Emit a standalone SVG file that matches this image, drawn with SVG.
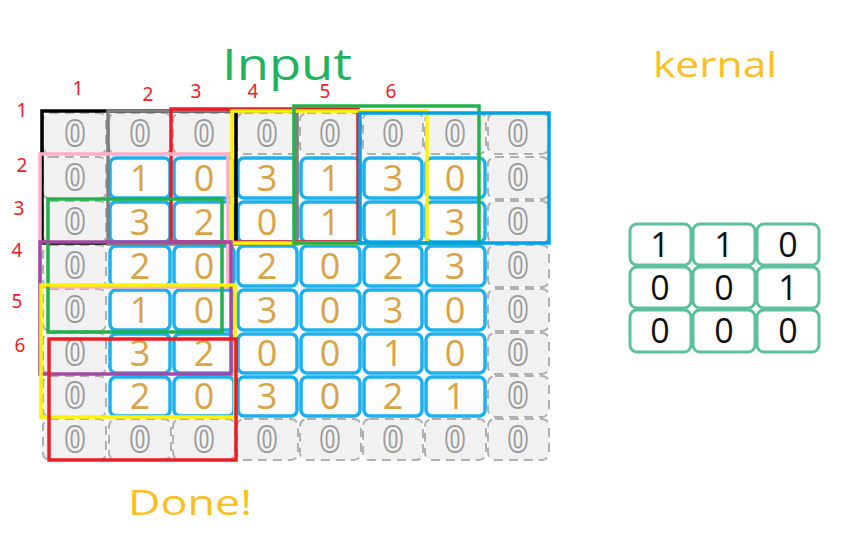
<svg xmlns="http://www.w3.org/2000/svg" width="850" height="550" viewBox="0 0 850 550">
<style>
.zc{fill:#f1f1f1;stroke:#b0b0b0;stroke-width:2;stroke-dasharray:9 6}
.zt{font-family:"Open Sans","DejaVu Sans",sans-serif;font-size:35px;font-weight:bold;fill:#f4f4f4;stroke:#9c9c9c;stroke-width:1.8;text-anchor:middle}
.ic{fill:#fdfdfd;stroke:#1cb0ee;stroke-width:3.5}
.it{font-family:"Open Sans","DejaVu Sans",sans-serif;font-size:36px;fill:#d9a346;text-anchor:middle}
.kc{fill:#ffffff;stroke:#5cbf9f;stroke-width:3}
.kt{font-family:"Open Sans","DejaVu Sans",sans-serif;font-size:34px;fill:#111;text-anchor:middle}
.lb{font-family:"Noto Sans","Liberation Sans",sans-serif;font-size:19px;fill:#ee1c25;text-anchor:middle}
.bx{fill:none;stroke-width:3.5}
.title{font-family:"Open Sans","Liberation Sans",sans-serif;font-weight:500;text-anchor:start}
</style>

<text class="title" x="222" y="80" font-size="43" fill="#22b25e" textLength="130" lengthAdjust="spacingAndGlyphs">Input</text>
<text class="title" x="653" y="77" font-size="34" fill="#fbbf22" textLength="124" lengthAdjust="spacingAndGlyphs">kernal</text>
<text class="title" x="128" y="515" font-size="34" fill="#fbbf22" textLength="124" lengthAdjust="spacingAndGlyphs">Done!</text>

<g id="input-grid">
<g id="row1">
<rect class="zc" x="43" y="113" width="63" height="41" rx="7"/><text class="zt" x="75" y="146">0</text>
<rect class="zc" x="109" y="113" width="62" height="41" rx="7"/><text class="zt" x="140" y="146">0</text>
<rect class="zc" x="173" y="113" width="62" height="41" rx="7"/><text class="zt" x="204" y="146">0</text>
<rect class="zc" x="237" y="113" width="61" height="41" rx="7"/><text class="zt" x="267" y="146">0</text>
<rect class="zc" x="300" y="113" width="61" height="41" rx="7"/><text class="zt" x="330" y="146">0</text>
<rect class="zc" x="363" y="113" width="60" height="41" rx="7"/><text class="zt" x="393" y="146">0</text>
<rect class="zc" x="425" y="113" width="61" height="41" rx="7"/><text class="zt" x="455" y="146">0</text>
<rect class="zc" x="488" y="113" width="61" height="41" rx="7"/><text class="zt" x="518" y="146">0</text>
</g>
<g id="row8">
<rect class="zc" x="43" y="419" width="63" height="41" rx="7"/><text class="zt" x="75" y="452">0</text>
<rect class="zc" x="109" y="419" width="62" height="41" rx="7"/><text class="zt" x="140" y="452">0</text>
<rect class="zc" x="173" y="419" width="62" height="41" rx="7"/><text class="zt" x="204" y="452">0</text>
<rect class="zc" x="237" y="419" width="61" height="41" rx="7"/><text class="zt" x="267" y="452">0</text>
<rect class="zc" x="300" y="419" width="61" height="41" rx="7"/><text class="zt" x="330" y="452">0</text>
<rect class="zc" x="363" y="419" width="60" height="41" rx="7"/><text class="zt" x="393" y="452">0</text>
<rect class="zc" x="425" y="419" width="61" height="41" rx="7"/><text class="zt" x="455" y="452">0</text>
<rect class="zc" x="488" y="419" width="61" height="41" rx="7"/><text class="zt" x="518" y="452">0</text>
</g>
<g id="sides">
<rect class="zc" x="43" y="157" width="63" height="42" rx="7"/><text class="zt" x="75" y="190">0</text>
<rect class="zc" x="43" y="201" width="63" height="42" rx="7"/><text class="zt" x="75" y="234">0</text>
<rect class="zc" x="43" y="245" width="63" height="42" rx="7"/><text class="zt" x="75" y="278">0</text>
<rect class="zc" x="43" y="289" width="63" height="42" rx="7"/><text class="zt" x="75" y="322">0</text>
<rect class="zc" x="43" y="333" width="63" height="41" rx="7"/><text class="zt" x="75" y="365">0</text>
<rect class="zc" x="43" y="376" width="63" height="41" rx="7"/><text class="zt" x="75" y="408">0</text>
<rect class="zc" x="488" y="157" width="61" height="42" rx="7"/><text class="zt" x="518" y="190">0</text>
<rect class="zc" x="488" y="201" width="61" height="42" rx="7"/><text class="zt" x="518" y="234">0</text>
<rect class="zc" x="488" y="245" width="61" height="42" rx="7"/><text class="zt" x="518" y="278">0</text>
<rect class="zc" x="488" y="289" width="61" height="42" rx="7"/><text class="zt" x="518" y="322">0</text>
<rect class="zc" x="488" y="333" width="61" height="41" rx="7"/><text class="zt" x="518" y="365">0</text>
<rect class="zc" x="488" y="376" width="61" height="41" rx="7"/><text class="zt" x="518" y="408">0</text>
</g>
<g id="inner">
<rect class="ic" x="110" y="158" width="60" height="40" rx="6"/><text class="it" x="140" y="191">1</text>
<rect class="ic" x="174" y="158" width="60" height="40" rx="6"/><text class="it" x="204" y="191">0</text>
<rect class="ic" x="238" y="158" width="59" height="40" rx="6"/><text class="it" x="267" y="191">3</text>
<rect class="ic" x="301" y="158" width="59" height="40" rx="6"/><text class="it" x="330" y="191">1</text>
<rect class="ic" x="364" y="158" width="58" height="40" rx="6"/><text class="it" x="393" y="191">3</text>
<rect class="ic" x="426" y="158" width="59" height="40" rx="6"/><text class="it" x="455" y="191">0</text>

<rect class="ic" x="110" y="202" width="60" height="40" rx="6"/><text class="it" x="140" y="235">3</text>
<rect class="ic" x="174" y="202" width="60" height="40" rx="6"/><text class="it" x="204" y="235">2</text>
<rect class="ic" x="238" y="202" width="59" height="40" rx="6"/><text class="it" x="267" y="235">0</text>
<rect class="ic" x="301" y="202" width="59" height="40" rx="6"/><text class="it" x="330" y="235">1</text>
<rect class="ic" x="364" y="202" width="58" height="40" rx="6"/><text class="it" x="393" y="235">1</text>
<rect class="ic" x="426" y="202" width="59" height="40" rx="6"/><text class="it" x="455" y="235">3</text>

<rect class="ic" x="110" y="246" width="60" height="40" rx="6"/><text class="it" x="140" y="279">2</text>
<rect class="ic" x="174" y="246" width="60" height="40" rx="6"/><text class="it" x="204" y="279">0</text>
<rect class="ic" x="238" y="246" width="59" height="40" rx="6"/><text class="it" x="267" y="279">2</text>
<rect class="ic" x="301" y="246" width="59" height="40" rx="6"/><text class="it" x="330" y="279">0</text>
<rect class="ic" x="364" y="246" width="58" height="40" rx="6"/><text class="it" x="393" y="279">2</text>
<rect class="ic" x="426" y="246" width="59" height="40" rx="6"/><text class="it" x="455" y="279">3</text>

<rect class="ic" x="110" y="290" width="60" height="40" rx="6"/><text class="it" x="140" y="323">1</text>
<rect class="ic" x="174" y="290" width="60" height="40" rx="6"/><text class="it" x="204" y="323">0</text>
<rect class="ic" x="238" y="290" width="59" height="40" rx="6"/><text class="it" x="267" y="323">3</text>
<rect class="ic" x="301" y="290" width="59" height="40" rx="6"/><text class="it" x="330" y="323">0</text>
<rect class="ic" x="364" y="290" width="58" height="40" rx="6"/><text class="it" x="393" y="323">3</text>
<rect class="ic" x="426" y="290" width="59" height="40" rx="6"/><text class="it" x="455" y="323">0</text>

<rect class="ic" x="110" y="334" width="60" height="39" rx="6"/><text class="it" x="140" y="366">3</text>
<rect class="ic" x="174" y="334" width="60" height="39" rx="6"/><text class="it" x="204" y="366">2</text>
<rect class="ic" x="238" y="334" width="59" height="39" rx="6"/><text class="it" x="267" y="366">0</text>
<rect class="ic" x="301" y="334" width="59" height="39" rx="6"/><text class="it" x="330" y="366">0</text>
<rect class="ic" x="364" y="334" width="58" height="39" rx="6"/><text class="it" x="393" y="366">1</text>
<rect class="ic" x="426" y="334" width="59" height="39" rx="6"/><text class="it" x="455" y="366">0</text>

<rect class="ic" x="110" y="377" width="60" height="39" rx="6"/><text class="it" x="140" y="409">2</text>
<rect class="ic" x="174" y="377" width="60" height="39" rx="6"/><text class="it" x="204" y="409">0</text>
<rect class="ic" x="238" y="377" width="59" height="39" rx="6"/><text class="it" x="267" y="409">3</text>
<rect class="ic" x="301" y="377" width="59" height="39" rx="6"/><text class="it" x="330" y="409">0</text>
<rect class="ic" x="364" y="377" width="58" height="39" rx="6"/><text class="it" x="393" y="409">2</text>
<rect class="ic" x="426" y="377" width="59" height="39" rx="6"/><text class="it" x="455" y="409">1</text>
</g>
</g>

<g id="kernel">
<rect class="kc" x="630" y="224" width="61" height="41" rx="7"/><text class="kt" x="660" y="257">1</text>
<rect class="kc" x="693" y="224" width="62" height="41" rx="7"/><text class="kt" x="724" y="257">1</text>
<rect class="kc" x="757" y="224" width="62" height="41" rx="7"/><text class="kt" x="788" y="257">0</text>
<rect class="kc" x="630" y="267" width="61" height="41" rx="7"/><text class="kt" x="660" y="300">0</text>
<rect class="kc" x="693" y="267" width="62" height="41" rx="7"/><text class="kt" x="724" y="300">0</text>
<rect class="kc" x="757" y="267" width="62" height="41" rx="7"/><text class="kt" x="788" y="300">1</text>
<rect class="kc" x="630" y="310" width="61" height="42" rx="7"/><text class="kt" x="660" y="343">0</text>
<rect class="kc" x="693" y="310" width="62" height="42" rx="7"/><text class="kt" x="724" y="343">0</text>
<rect class="kc" x="757" y="310" width="62" height="42" rx="7"/><text class="kt" x="788" y="343">0</text>
</g>

<g id="windows">
<rect class="bx" x="42" y="111" width="194" height="132" stroke="#000000" stroke-width="3"/>
<rect class="bx" x="108" y="111" width="189" height="133" stroke="#7f7f7f"/>
<rect class="bx" x="171" y="109" width="187" height="133" stroke="#ed1c24"/>
<rect class="bx" x="232" y="111" width="195" height="132" stroke="#fff200"/>
<rect class="bx" x="294" y="106" width="185" height="137" stroke="#22b14c"/>
<rect class="bx" x="360" y="113" width="189" height="130" stroke="#00a2e8" stroke-width="4"/>
<rect class="bx" x="40" y="154" width="188" height="133" stroke="#ffaec9"/>
<rect class="bx" x="48" y="199" width="174" height="133" stroke="#22b14c"/>
<rect class="bx" x="40" y="242" width="191" height="132" stroke="#a349a4"/>
<rect class="bx" x="41" y="285" width="194" height="132" stroke="#fff200"/>
<rect class="bx" x="49" y="339" width="187" height="121" stroke="#ed1c24"/>
</g>

<g id="labels">
<text class="lb" x="78" y="95">1</text>
<text class="lb" x="148" y="101">2</text>
<text class="lb" x="196" y="98">3</text>
<text class="lb" x="253" y="98">4</text>
<text class="lb" x="325" y="98">5</text>
<text class="lb" x="391" y="98">6</text>
<text class="lb" x="22" y="117">1</text>
<text class="lb" x="22" y="172">2</text>
<text class="lb" x="19" y="215">3</text>
<text class="lb" x="17" y="257">4</text>
<text class="lb" x="17" y="308">5</text>
<text class="lb" x="20" y="352">6</text>
</g>
</svg>
